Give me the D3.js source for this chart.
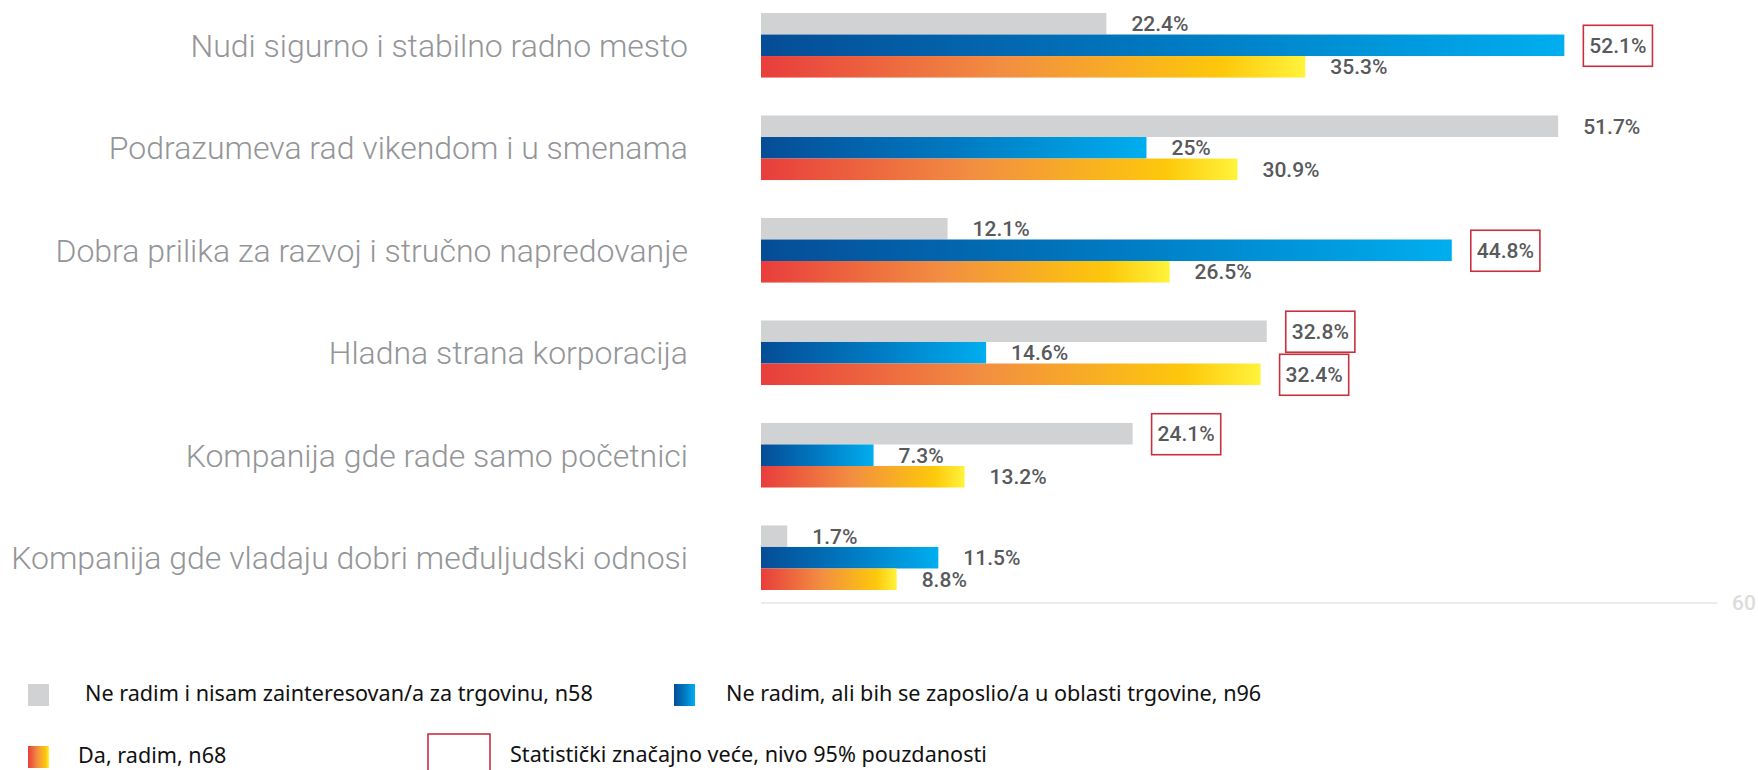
<!DOCTYPE html>
<html>
<head>
<meta charset="utf-8">
<script src="https://cdn.jsdelivr.net/npm/d3@7"></script>
<style>
    body { margin: 0; background: #fff; }
    svg { display: block; }
</style>
</head>
<body>
<svg width="1758" height="770"></svg>
<script>
var categories = [
    "Nudi sigurno i stabilno radno mesto",
    "Podrazumeva rad vikendom i u smenama",
    "Dobra prilika za razvoj i stručno napredovanje",
    "Hladna strana korporacija",
    "Kompanija gde rade samo početnici",
    "Kompanija gde vladaju dobri međuljudski odnosi"
];
var notInterested = [22.4, 51.7, 12.1, 32.8, 24.1, 1.7];
var wouldWork = [52.1, 25, 44.8, 14.6, 7.3, 11.5];
var working = [35.3, 30.9, 26.5, 32.4, 13.2, 8.8];

// statistically significant (boxed) values
var sigNotInterested = [false, false, false, true, true, false];
var sigWouldWork = [true, false, true, false, false, false];
var sigWorking = [false, false, false, true, false, false];

var seriesNames = [
    "Ne radim i nisam zainteresovan/a za trgovinu, n58",
    "Ne radim, ali bih se zaposlio/a u oblasti trgovine, n96",
    "Da, radim, n68"
];
var sigLegend = "Statistički značajno veće, nivo 95% pouzdanosti";
var xMax = 62;
var xTickLabel = "60";

function main() {
    var svg = d3.select("svg");

    var series = [
        { key: "gray", values: notInterested, sig: sigNotInterested, fill: "#d1d2d4" },
        { key: "blue", values: wouldWork, sig: sigWouldWork, fill: "url(#gradBlue)" },
        { key: "warm", values: working, sig: sigWorking, fill: "url(#gradWarm)" }
    ];

    var defs = svg.append("defs");
    var gBlue = defs.append("linearGradient").attr("id", "gradBlue");
    gBlue.append("stop").attr("offset", "0%").attr("stop-color", "#054d96");
    gBlue.append("stop").attr("offset", "50%").attr("stop-color", "#0079c1");
    gBlue.append("stop").attr("offset", "100%").attr("stop-color", "#00aeef");
    var gWarm = defs.append("linearGradient").attr("id", "gradWarm");
    gWarm.append("stop").attr("offset", "0%").attr("stop-color", "#e83d3c");
    gWarm.append("stop").attr("offset", "45%").attr("stop-color", "#f28f41");
    gWarm.append("stop").attr("offset", "85%").attr("stop-color", "#fdc80b");
    gWarm.append("stop").attr("offset", "100%").attr("stop-color", "#fff33b");

    var xScale = d3.scaleLinear().domain([0, xMax]).range([761, 1717]);
    var yScale = d3.scaleBand()
                   .domain(categories)
                   .range([13, 590])
                   .paddingInner(0.37)
                   .paddingOuter(0);
    var subScale = d3.scaleBand()
                     .domain(series.map(function(s) { return s.key; }))
                     .range([0, yScale.bandwidth()]);

    // baseline
    svg.append("line")
       .attr("x1", xScale(0))
       .attr("x2", xScale(xMax))
       .attr("y1", 603)
       .attr("y2", 603)
       .attr("stroke", "#ececec")
       .attr("stroke-width", 2);

    svg.append("text")
       .attr("x", xScale(xMax) + 15)
       .attr("y", 603)
       .attr("dy", "0.35em")
       .attr("font-family", "Roboto, sans-serif")
       .attr("font-weight", 500)
       .attr("font-size", "21px")
       .attr("fill", "#dcdcdc")
       .text(xTickLabel);

    // category labels
    svg.selectAll(".cat")
       .data(categories)
       .enter().append("text")
       .attr("class", "cat")
       .attr("x", 688)
       .attr("y", function(d) { return yScale(d) + yScale.bandwidth() / 2; })
       .attr("dy", "0.36em")
       .attr("text-anchor", "end")
       .attr("font-family", "Roboto, sans-serif")
       .attr("font-weight", 300)
       .attr("font-size", "32px")
       .attr("fill", "#939598")
       .text(function(d) { return d; });

    series.forEach(function(s) {
        var rows = categories.map(function(c, i) {
            return { cat: c, value: s.values[i], sig: s.sig[i] };
        });

        svg.selectAll(".bar-" + s.key)
           .data(rows)
           .enter().append("rect")
           .attr("class", "bar-" + s.key)
           .attr("x", xScale(0))
           .attr("y", function(d) { return yScale(d.cat) + subScale(s.key); })
           .attr("width", function(d) { return xScale(d.value) - xScale(0); })
           .attr("height", subScale.bandwidth())
           .attr("fill", s.fill);

        var labels = svg.selectAll(".lbl-" + s.key)
           .data(rows)
           .enter().append("text")
           .attr("class", "lbl-" + s.key)
           .attr("x", function(d) { return xScale(d.value) + 25; })
           .attr("y", function(d) { return yScale(d.cat) + subScale(s.key) + subScale.bandwidth() / 2; })
           .attr("dy", "0.36em")
           .attr("font-family", "Roboto, sans-serif")
           .attr("font-weight", 500)
           .attr("font-size", "21px")
           .attr("fill", "#58595b")
           .text(function(d) { return d.value + "%"; });

        labels.filter(function(d) { return d.sig; })
              .each(function(d) {
                  var bb = this.getBBox();
                  var cy = yScale(d.cat) + subScale(s.key) + subScale.bandwidth() / 2;
                  svg.append("rect")
                     .attr("x", bb.x - 6)
                     .attr("y", cy - 20)
                     .attr("width", bb.width + 12)
                     .attr("height", 41)
                     .attr("fill", "none")
                     .attr("stroke", "#c9303e")
                     .attr("stroke-width", 1.6);
              });
    });

    // legend
    var legendItems = [
        { x: 28, y: 684, fill: "#d1d2d4", text: seriesNames[0], tx: 85 },
        { x: 674, y: 684, fill: "url(#gradBlue)", text: seriesNames[1], tx: 726 },
        { x: 28, y: 746, fill: "url(#gradWarm)", text: seriesNames[2], tx: 78 }
    ];

    var legend = svg.append("g").attr("class", "legend");
    legend.selectAll("rect")
          .data(legendItems)
          .enter().append("rect")
          .attr("x", function(d) { return d.x; })
          .attr("y", function(d) { return d.y; })
          .attr("width", 21)
          .attr("height", 22)
          .attr("fill", function(d) { return d.fill; });
    legend.selectAll("text")
          .data(legendItems)
          .enter().append("text")
          .attr("x", function(d) { return d.tx; })
          .attr("y", function(d) { return d.y + 9; })
          .attr("dy", "0.36em")
          .attr("font-family", "'Noto Sans', sans-serif")
          .attr("font-size", "21.6px")
          .attr("fill", "#111")
          .text(function(d) { return d.text; });

    legend.append("rect")
          .attr("x", 428)
          .attr("y", 734)
          .attr("width", 62)
          .attr("height", 44)
          .attr("fill", "none")
          .attr("stroke", "#c9303e")
          .attr("stroke-width", 1.6);
    legend.append("text")
          .attr("x", 510)
          .attr("y", 754)
          .attr("dy", "0.36em")
          .attr("font-family", "'Noto Sans', sans-serif")
          .attr("font-size", "21.6px")
          .attr("fill", "#111")
          .text(sigLegend);
}
main();
</script>
</body>
</html>
